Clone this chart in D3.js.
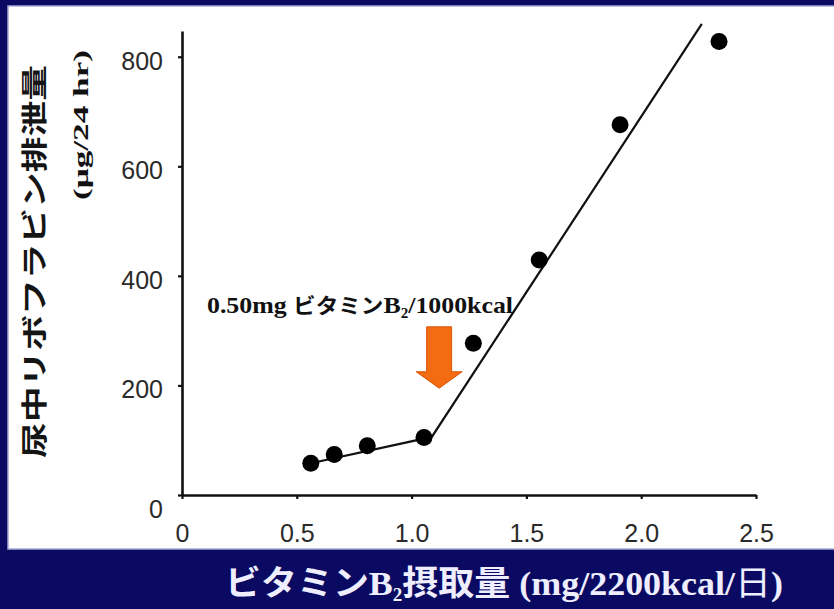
<!DOCTYPE html>
<html>
<head>
<meta charset="utf-8">
<script src="https://cdn.jsdelivr.net/npm/d3@7/dist/d3.min.js"></script>
<style>
  html, body { margin: 0; padding: 0; background: #0b0a62; }
  svg { display: block; }
</style>
</head>
<body>
<svg id="chart" width="834" height="609"></svg>
<script>
// Riboflavin intake vs. urinary excretion
const intake = [0.561, 0.663, 0.807, 1.054, 1.269, 1.556, 1.908, 2.339];      // mg/2200kcal/day
const excretion = [58, 74, 90, 105, 277, 429, 676, 828];                     // µg/24 hr
// broken-line fit: low plateau, breakpoint, steep rise
const fitX = [0.561, 1.088, 2.264];
const fitY = [58, 106, 860];
const xTicks = [0, 0.5, 1.0, 1.5, 2.0, 2.5];
const yTicks = [0, 200, 400, 600, 800];
// breakpoint marker (arrow) position, in data units
const arrowX = 1.12;
const arrowTop = 307, arrowHeadStart = 225, arrowTip = 195;

const serif = "'Liberation Serif', 'Times New Roman', serif";
const sans = "'Liberation Sans', Arial, sans-serif";
const cjk = "'Noto Sans CJK JP', sans-serif";

const svg = d3.select("#chart");

// slide background: navy frame with white panel
svg.append("rect").attr("x", 0).attr("y", 0).attr("width", 834).attr("height", 609).attr("fill", "#0b0a62");
svg.append("rect").attr("x", 8).attr("y", 6).attr("width", 830).attr("height", 543)
  .attr("fill", "#ffffff").attr("stroke", "#a9a9d6").attr("stroke-width", 1.5);

const x = d3.scaleLinear().domain([0, 2.5]).range([182, 756]);
const y = d3.scaleLinear().domain([0, 847]).range([495, 31]);

// x axis
const gx = svg.append("g").attr("transform", `translate(0,${y(0)})`)
  .call(d3.axisBottom(x).tickValues(xTicks).tickSize(4).tickSizeOuter(0).tickPadding(25)
    .tickFormat(d => d === 0 ? "0" : d3.format(".1f")(d)));
gx.select(".domain").attr("stroke", "#111").attr("stroke-width", 2.6);
gx.selectAll(".tick line").attr("stroke", "#111").attr("stroke-width", 2.2);
gx.selectAll(".tick text").attr("font-family", sans).attr("font-size", 25).attr("fill", "#2a2a2a");

// y axis
const gy = svg.append("g").attr("transform", `translate(${x(0)},0)`)
  .call(d3.axisLeft(y).tickValues(yTicks).tickSize(4).tickSizeOuter(0).tickPadding(15));
gy.select(".domain").attr("stroke", "#111").attr("stroke-width", 2.6);
gy.selectAll(".tick line").attr("stroke", "#111").attr("stroke-width", 2.2);
gy.selectAll(".tick text").attr("font-family", sans).attr("font-size", 25).attr("fill", "#2a2a2a")
  .attr("dy", d => d === 0 ? "0.9em" : "0.5em");

// y axis title (two lines, rotated)
svg.append("text")
  .attr("transform", "translate(44,261.5) rotate(-90)")
  .attr("text-anchor", "middle").attr("font-family", cjk).attr("font-weight", "bold")
  .attr("font-size", 26).attr("fill", "#151515")
  .attr("textLength", 393).attr("lengthAdjust", "spacingAndGlyphs")
  .text("尿中リボフラビン排泄量");
svg.append("text")
  .attr("transform", "translate(88,125) rotate(-90)")
  .attr("text-anchor", "middle").attr("font-family", serif).attr("font-weight", "bold")
  .attr("font-size", 22).attr("fill", "#111")
  .attr("textLength", 150).attr("lengthAdjust", "spacingAndGlyphs")
  .text("(μg/24 hr)");

// annotation text
const ann = svg.append("text").attr("x", 207).attr("y", 313)
  .attr("font-size", 24).attr("fill", "#111").attr("font-weight", "bold")
  .attr("textLength", 306).attr("lengthAdjust", "spacingAndGlyphs");
ann.append("tspan").attr("font-family", serif).text("0.50mg ");
ann.append("tspan").attr("font-family", cjk).attr("font-size", 21).text("ビタミン");
ann.append("tspan").attr("font-family", serif).text("B");
ann.append("tspan").attr("font-family", serif).attr("font-size", 14).attr("dy", 5).text("2");
ann.append("tspan").attr("font-family", serif).attr("dy", -5).text("/1000kcal");

// orange arrow marking the breakpoint
const ax = x(arrowX);
const shaftHalf = 12.5, headHalf = 23;
svg.append("path")
  .attr("d", `M${ax - shaftHalf},${y(arrowTop)} L${ax + shaftHalf},${y(arrowTop)} L${ax + shaftHalf},${y(arrowHeadStart)}
              L${ax + headHalf},${y(arrowHeadStart)} L${ax},${y(arrowTip)} L${ax - headHalf},${y(arrowHeadStart)}
              L${ax - shaftHalf},${y(arrowHeadStart)} Z`)
  .attr("fill", "#f36c12").attr("stroke", "#d9580a").attr("stroke-width", 1);

// fitted broken line
svg.append("path")
  .datum(fitX.map((v, i) => [v, fitY[i]]))
  .attr("d", d3.line().x(d => x(d[0])).y(d => y(d[1])))
  .attr("fill", "none").attr("stroke", "#111").attr("stroke-width", 2.2);

// data points
svg.append("g").selectAll("circle")
  .data(intake.map((v, i) => [v, excretion[i]]))
  .join("circle")
  .attr("cx", d => x(d[0])).attr("cy", d => y(d[1])).attr("r", 8.5)
  .attr("fill", "#000");

// x axis title on the navy band
const xt = svg.append("text").attr("x", 225).attr("y", 595)
  .attr("font-size", 34).attr("fill", "#eeeeff")
  .attr("textLength", 558).attr("lengthAdjust", "spacingAndGlyphs");
xt.append("tspan").attr("font-family", cjk).attr("font-weight", "bold").text("ビタミン");
xt.append("tspan").attr("font-family", serif).attr("font-weight", "bold").text("B");
xt.append("tspan").attr("font-family", serif).attr("font-weight", "bold").attr("font-size", 18).attr("dy", 6).text("2");
xt.append("tspan").attr("font-family", cjk).attr("font-weight", "bold").attr("dy", -6).text("摂取量");
xt.append("tspan").attr("font-family", serif).attr("font-weight", "bold").text(" (mg/2200kcal/");
xt.append("tspan").attr("font-family", cjk).text("日");
xt.append("tspan").attr("font-family", serif).attr("font-weight", "bold").text(")");
</script>
</body>
</html>
